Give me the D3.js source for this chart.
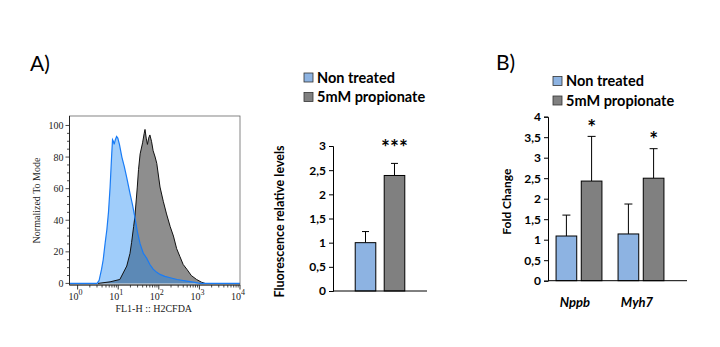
<!DOCTYPE html>
<html>
<head>
<meta charset="utf-8">
<script src="https://cdn.jsdelivr.net/npm/d3@7"></script>
<style>
    body { margin: 0; background: #fff; }
    svg { display: block; }
</style>
</head>
<body>
<div id="fig"></div>
<script>
// histogram traces, x in log10(FL1-H), y in % of mode
const ntLog = [-0.2, 0.48, 0.53, 0.59, 0.63, 0.68, 0.72, 0.76, 0.80, 0.84, 0.86, 0.88, 0.90, 0.93, 0.96, 0.99, 1.03, 1.09, 1.15, 1.21, 1.29, 1.35, 1.41, 1.47, 1.54, 1.62, 1.70, 1.78, 1.86, 1.95, 2.03, 2.15, 2.28, 2.45, 2.69, 2.85, 3.01, 4]
const ntMode = [0, 0, 2, 9, 15, 26, 34, 45, 61, 82, 91, 90, 88, 91, 93, 92, 88, 80, 74, 67, 57, 50, 42, 33, 25, 19, 16, 12, 9, 7, 5.7, 4.5, 3.6, 2.5, 1.5, 0.8, 0, 0]
const propLog = [0.5, 0.80, 1.04, 1.21, 1.29, 1.33, 1.38, 1.41, 1.47, 1.50, 1.54, 1.60, 1.64, 1.66, 1.69, 1.72, 1.75, 1.78, 1.82, 1.86, 1.91, 1.95, 2.03, 2.11, 2.19, 2.28, 2.36, 2.44, 2.52, 2.60, 2.69, 2.80, 2.93, 3.05, 3.14]
const propMode = [0, 1, 2.5, 11, 19, 26, 36, 42, 61, 72, 82, 89, 95, 97.5, 92, 88, 92, 94, 90, 84, 80, 76, 61, 52, 44, 36, 30, 22, 17, 12, 9, 5, 2.5, 0.8, 0]
const histYTicks = [0, 20, 40, 60, 80, 100]
const decades = [0, 1, 2, 3, 4]

// bar panels
const series = ["Non treated", "5mM propionate"]
const rosCats = [""]
const rosMean = [[1.0, 2.39]]
const rosErr = [[0.23, 0.25]]
const rosStars = ["***"]
const rosTicks = [0, 0.5, 1, 1.5, 2, 2.5, 3]
const geneCats = ["Nppb", "Myh7"]
const geneMean = [[1.09, 2.43], [1.14, 2.50]]
const geneErr = [[0.51, 1.09], [0.73, 0.72]]
const geneStars = ["*", "*"]
const geneTicks = [0, 0.5, 1, 1.5, 2, 2.5, 3, 3.5, 4]

const color_set = ["#8db3e2", "#808080"]
const fmt = v => String(v).replace(".", ",")

const svg = d3.select("#fig")
    .append("svg")
    .attr("width", 720)
    .attr("height", 347)
    .style("font-family", "Lato, 'Open Sans', sans-serif")

svg.append("text").attr("x", 30).attr("y", 71).attr("font-size", 21).text("A)")
svg.append("text").attr("x", 496).attr("y", 70).attr("font-size", 21).text("B)")

draw_hist()
draw_bars({
    cats: rosCats, mean: rosMean, err: rosErr, stars: rosStars, ticks: rosTicks,
    yMax: 3, left: 333, right: 427, top: 146, bottom: 291,
    bandRange: [333, 427], padIn: 0, padOut: 0.448, barPad: 0.29,
    starGap: 24, starSize: 21, cap: 7,
    legend: { x: 304, y: 73 },
    yLabel: "Fluorescence relative levels", yLabelX: 280, yLabelSize: 12.5
})
draw_bars({
    cats: geneCats, mean: geneMean, err: geneErr, stars: geneStars, ticks: geneTicks,
    yMax: 4, left: 548, right: 687, top: 116.7, bottom: 280.7,
    bandRange: [548, 672], padIn: 0.26, padOut: 0.13, barPad: 0.18,
    starGap: 17, starSize: 21, cap: 8,
    legend: { x: 553, y: 76.5 },
    yLabel: "Fold Change", yLabelX: 507, yLabelSize: 12,
    catLabels: true
})

function draw_hist() {
    const config = { left: 69.5, right: 240, top: 116, bottom: 285 }
    const g = svg.append("g").attr("font-family", "'Liberation Serif', 'DejaVu Serif', serif")

    const x = d3.scaleLinear().domain([-0.2, 4]).range([config.left, config.right])
    const y = d3.scaleLinear().domain([-1, 106]).range([config.bottom, config.top])

    const area = d3.area().x(d => x(d[0])).y0(y(0)).y1(d => y(d[1]))
    const line = d3.line().x(d => x(d[0])).y(d => y(d[1]))
    const prop = d3.zip(propLog, propMode)
    const nt = d3.zip(ntLog, ntMode)

    g.append("path").attr("d", area(prop)).attr("fill", "#8e8e8e")
    g.append("path").attr("d", area(nt)).attr("fill", "#1182f2").attr("fill-opacity", 0.4)
    g.append("path").attr("d", line(prop)).attr("fill", "none").attr("stroke", "#111").attr("stroke-width", 1)
    g.append("path").attr("d", line(nt)).attr("fill", "none").attr("stroke", "#1a7cf5").attr("stroke-width", 1.2)

    g.append("rect")
        .attr("x", config.left).attr("y", config.top)
        .attr("width", config.right - config.left).attr("height", config.bottom - config.top)
        .attr("fill", "none").attr("stroke", "#666").attr("stroke-width", 0.8)

    // y axis with minor ticks every 5
    const g_axisY = g.append("g").attr("transform", `translate(${config.left}, 0)`)
    g_axisY.selectAll("line.minor")
        .data(d3.range(0, 101, 5))
        .join("line")
        .attr("x1", 0).attr("x2", d => d % 20 === 0 ? -4 : -2.5)
        .attr("y1", d => y(d)).attr("y2", d => y(d))
        .attr("stroke", "#222").attr("stroke-width", 0.8)
    g_axisY.append("line").attr("y1", config.top).attr("y2", config.bottom).attr("stroke", "#222")
    g_axisY.selectAll("text")
        .data(histYTicks)
        .join("text")
        .attr("x", -6).attr("y", d => y(d)).attr("dy", "0.35em")
        .attr("text-anchor", "end").attr("font-size", 10).attr("fill", "#222")
        .text(d => d)

    // log x axis
    const g_axisX = g.append("g").attr("transform", `translate(0, ${config.bottom})`)
    const minor = []
    decades.slice(0, -1).forEach(k => d3.range(2, 10).forEach(m => minor.push(k + Math.log10(m))))
    g_axisX.selectAll("line.minor")
        .data(minor)
        .join("line")
        .attr("x1", d => x(d)).attr("x2", d => x(d))
        .attr("y1", 0).attr("y2", 2.5)
        .attr("stroke", "#222").attr("stroke-width", 0.8)
    g_axisX.selectAll("line.major")
        .data(decades)
        .join("line")
        .attr("x1", d => x(d)).attr("x2", d => x(d))
        .attr("y1", 0).attr("y2", 4.5)
        .attr("stroke", "#222").attr("stroke-width", 0.9)
    g_axisX.append("line").attr("x1", config.left).attr("x2", config.right).attr("stroke", "#222")
    const lbl = g_axisX.selectAll("text")
        .data(decades)
        .join("text")
        .attr("x", d => x(d) - 2).attr("y", 15)
        .attr("text-anchor", "middle").attr("font-size", 10).attr("fill", "#222")
    lbl.append("tspan").text("10")
    lbl.append("tspan").attr("dy", -5).attr("font-size", 8).text(d => d)

    g.append("text")
        .attr("x", (config.left + config.right) / 2 - 1).attr("y", 312)
        .attr("text-anchor", "middle").attr("font-size", 10).attr("fill", "#222")
        .text("FL1-H :: H2CFDA")
    g.append("text")
        .attr("transform", `translate(40, ${(config.top + config.bottom) / 2}) rotate(-90)`)
        .attr("text-anchor", "middle").attr("font-size", 10).attr("fill", "#222")
        .text("Normalized To Mode")
}

function draw_bars(config) {
    const g = svg.append("g").attr("font-weight", "bold")
    const y = d3.scaleLinear().domain([0, config.yMax]).range([config.bottom, config.top])
    const x0 = d3.scaleBand().domain(config.cats).range(config.bandRange)
        .paddingInner(config.padIn).paddingOuter(config.padOut)
    const x1 = d3.scaleBand().domain(series).range([0, x0.bandwidth()]).paddingInner(config.barPad)

    const rows = config.cats.flatMap((c, i) => series.map((s, j) => ({
        cat: c, s: s, j: j, v: config.mean[i][j], e: config.err[i][j]
    })))

    // error bars behind the bars, upper half only
    const g_err = g.append("g").attr("stroke", "#000").attr("stroke-width", 1)
    rows.forEach(d => {
        const cx = x0(d.cat) + x1(d.s) + x1.bandwidth() / 2
        g_err.append("line").attr("x1", cx).attr("x2", cx).attr("y1", y(d.v)).attr("y2", y(d.v + d.e))
        g_err.append("line").attr("x1", cx - config.cap / 2).attr("x2", cx + config.cap / 2)
            .attr("y1", y(d.v + d.e)).attr("y2", y(d.v + d.e))
    })

    g.append("g").selectAll("rect")
        .data(rows)
        .join("rect")
        .attr("x", d => x0(d.cat) + x1(d.s))
        .attr("y", d => y(d.v))
        .attr("width", x1.bandwidth())
        .attr("height", d => y(0) - y(d.v))
        .attr("fill", d => color_set[d.j])
        .attr("stroke", "#000").attr("stroke-width", 1)

    // significance stars over the treated bar
    g.append("g").selectAll("text")
        .data(config.cats)
        .join("text")
        .attr("x", (c) => x0(c) + x1(series[1]) + x1.bandwidth() / 2)
        .attr("y", (c, i) => y(config.mean[i][1] + config.err[i][1]) - config.starGap)
        .attr("dy", "0.75em")
        .attr("text-anchor", "middle").attr("font-size", config.starSize)
        .text((c, i) => config.stars[i])

    // y axis
    const g_axisY = g.append("g").attr("transform", `translate(${config.left}, 0)`)
    g_axisY.call(d3.axisLeft(y).tickValues(config.ticks).tickSize(4).tickPadding(3).tickFormat(fmt))
    g_axisY.select(".domain").attr("stroke", "#000")
    g_axisY.selectAll("text").attr("font-size", 12).attr("font-family", "Lato, sans-serif").attr("fill", "#000")

    g.append("line")
        .attr("x1", config.left).attr("x2", config.right)
        .attr("y1", config.bottom).attr("y2", config.bottom)
        .attr("stroke", "#000")

    g.append("text")
        .attr("transform", `translate(${config.yLabelX}, ${(config.top + config.bottom) / 2 + 3}) rotate(-90)`)
        .attr("dy", "0.35em").attr("text-anchor", "middle").attr("font-size", config.yLabelSize)
        .text(config.yLabel)

    if (config.catLabels) {
        g.append("g").selectAll("text")
            .data(config.cats)
            .join("text")
            .attr("x", c => x0(c) + x0.bandwidth() / 2 - 4)
            .attr("y", config.bottom + 26)
            .attr("text-anchor", "middle").attr("font-size", 13).attr("font-style", "italic")
            .text(c => c)
    }

    // legend
    const lg = g.append("g").attr("transform", `translate(${config.legend.x}, ${config.legend.y})`)
    series.forEach((s, j) => {
        lg.append("rect").attr("x", 0).attr("y", j * 19.5)
            .attr("width", 9).attr("height", 9)
            .attr("fill", color_set[j]).attr("stroke", "#333").attr("stroke-width", 0.8)
        lg.append("text").attr("x", 13).attr("y", j * 19.5 + 4.5).attr("dy", "0.36em")
            .attr("font-size", 14.5).text(s)
    })
}
</script>
</body>
</html>
